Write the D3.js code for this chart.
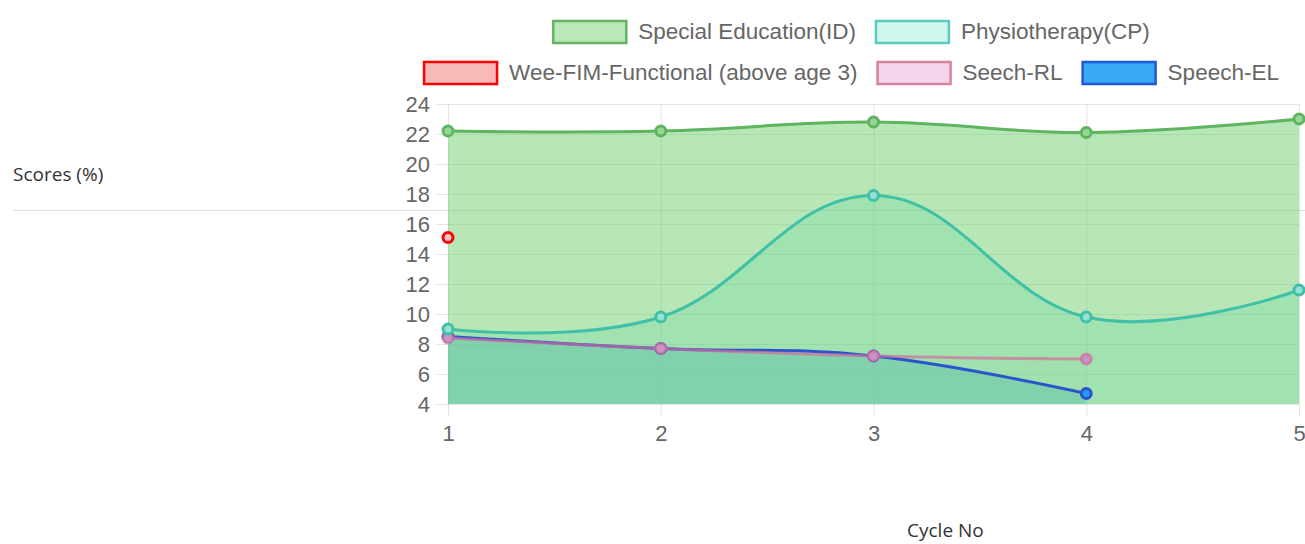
<!DOCTYPE html>
<html>
<head>
<meta charset="utf-8">
<script src="https://cdn.jsdelivr.net/npm/d3@7"></script>
<style>
  body { margin: 0; background: #fff; }
  svg { display: block; }
  .tick text { fill: #666; font-family: "Liberation Sans", Arial, sans-serif; font-size: 22px; }
  .tick line { stroke: rgba(0,0,0,0.1); }
</style>
</head>
<body>
<div id="chart"></div>
<script>
let w = 1305;
let h = 544;

// data
const cycles = [1, 2, 3, 4, 5];
const yTicks = [4, 6, 8, 10, 12, 14, 16, 18, 20, 22, 24];
const seriesNames = ["Special Education(ID)", "Physiotherapy(CP)", "Wee-FIM-Functional (above age 3)", "Seech-RL", "Speech-EL"];
const specialEd = [22.2, 22.2, 22.8, 22.1, 23.0];
const physio = [9.0, 9.8, 17.9, 9.8, 11.6];
const weeFim = [15.1];
const speechRL = [8.4, 7.7, 7.2, 7.0];
const speechEL = [8.5, 7.7, 7.2, 4.7];

// styles per series
const styles = [
  { stroke: "rgb(95,180,95)", box: "rgb(185,232,185)", area: "rgba(112,208,112,0.5)", point: "rgb(150,215,150)" },
  { stroke: "rgb(65,192,168)", box: "rgb(208,245,238)", area: "rgba(75,220,200,0.25)", point: "rgb(150,225,210)" },
  { stroke: "rgb(255,0,0)", box: "rgb(248,185,185)", area: null, point: "rgb(250,200,200)" },
  { stroke: "rgba(210,110,160,0.7)", box: "rgb(245,213,236)", area: "rgba(240,180,220,0.1)", point: "rgb(195,150,200)" },
  { stroke: "rgb(40,85,205)", box: "rgb(59,168,245)", area: "rgba(54,162,235,0.45)", point: "rgb(40,150,240)" }
];
const boxBorders = ["rgb(100,180,100)", "rgb(90,205,190)", "rgb(255,0,0)", "rgb(215,130,160)", "rgb(30,90,215)"];
const allData = [specialEd, physio, weeFim, speechRL, speechEL];

let padL = 448, padR = 1299, padT = 104, padB = 404;

let svg = d3.select("#chart").append("svg")
  .attr("width", w).attr("height", h)
  .attr("viewBox", `0 0 ${w} ${h}`);

// page texts
svg.append("text").attr("x", 13).attr("y", 181)
  .style("font-family", "'Open Sans', sans-serif").style("font-size", "19px").style("fill", "#333")
  .text("Scores (%)");
svg.append("line").attr("x1", 13).attr("x2", w).attr("y1", 210.5).attr("y2", 210.5)
  .attr("stroke", "#ddd").attr("stroke-width", 1);
svg.append("text").attr("x", 907).attr("y", 537)
  .style("font-family", "'Open Sans', sans-serif").style("font-size", "19px").style("fill", "#333")
  .text("Cycle No");

let xScale = d3.scaleLinear().domain([1, 5]).range([padL, padR]);
let yScale = d3.scaleLinear().domain([4, 24]).range([padB, padT]);

// grid + ticks
let yAxis = d3.axisLeft(yScale).tickValues(yTicks).tickSize(padR - 436).tickPadding(6);
svg.append("g").attr("transform", `translate(${padR},0)`).call(yAxis)
  .call(g => g.select(".domain").remove());
let xAxis = d3.axisBottom(xScale).tickValues(cycles).tickSize(416 - padT).tickPadding(9).tickFormat(d3.format("d"));
svg.append("g").attr("transform", `translate(0,${padT})`).call(xAxis)
  .call(g => g.select(".domain").remove());

let curve = d3.curveCardinal.tension(-0.2);
let line = d3.line().x((d, i) => xScale(cycles[i])).y(d => yScale(d)).curve(curve);
let area = d3.area().x((d, i) => xScale(cycles[i])).y0(yScale(4)).y1(d => yScale(d)).curve(curve);

// fills, last dataset first
for (let k = allData.length - 1; k >= 0; k--) {
  if (!styles[k].area || allData[k].length < 2) continue;
  svg.append("path").datum(allData[k]).attr("d", area).attr("fill", styles[k].area);
}
// lines + points
for (let k = allData.length - 1; k >= 0; k--) {
  let s = styles[k];
  if (allData[k].length > 1) {
    svg.append("path").datum(allData[k]).attr("d", line)
      .attr("fill", "none").attr("stroke", s.stroke).attr("stroke-width", 3);
  }
  svg.selectAll(null).data(allData[k]).enter().append("circle")
    .attr("cx", (d, i) => xScale(cycles[i]))
    .attr("cy", d => yScale(d))
    .attr("r", 5)
    .attr("fill", s.point)
    .attr("stroke", s.stroke)
    .attr("stroke-width", 3);
}

// legend, two centered rows
const rows = [[0, 1], [2, 3, 4]];
const rowY = [20, 61];
const boxW = 75, boxH = 24, gapText = 11, gapItem = 19, centerX = 851;
rows.forEach((row, r) => {
  let g = svg.append("g");
  let x = 0;
  row.forEach(k => {
    g.append("rect").attr("x", x + 1).attr("y", rowY[r] + 1).attr("width", boxW - 2).attr("height", boxH - 2)
      .attr("fill", styles[k].box).attr("stroke", boxBorders[k]).attr("stroke-width", 2.5);
    let t = g.append("text").attr("x", x + boxW + gapText).attr("y", rowY[r] + 19)
      .style("font-family", "'Liberation Sans', Arial, sans-serif").style("font-size", "22.5px").style("fill", "#666")
      .text(seriesNames[k]);
    x += boxW + gapText + t.node().getComputedTextLength() + gapItem;
  });
  let total = x - gapItem;
  g.attr("transform", `translate(${centerX - total / 2},0)`);
});
</script>
</body>
</html>
